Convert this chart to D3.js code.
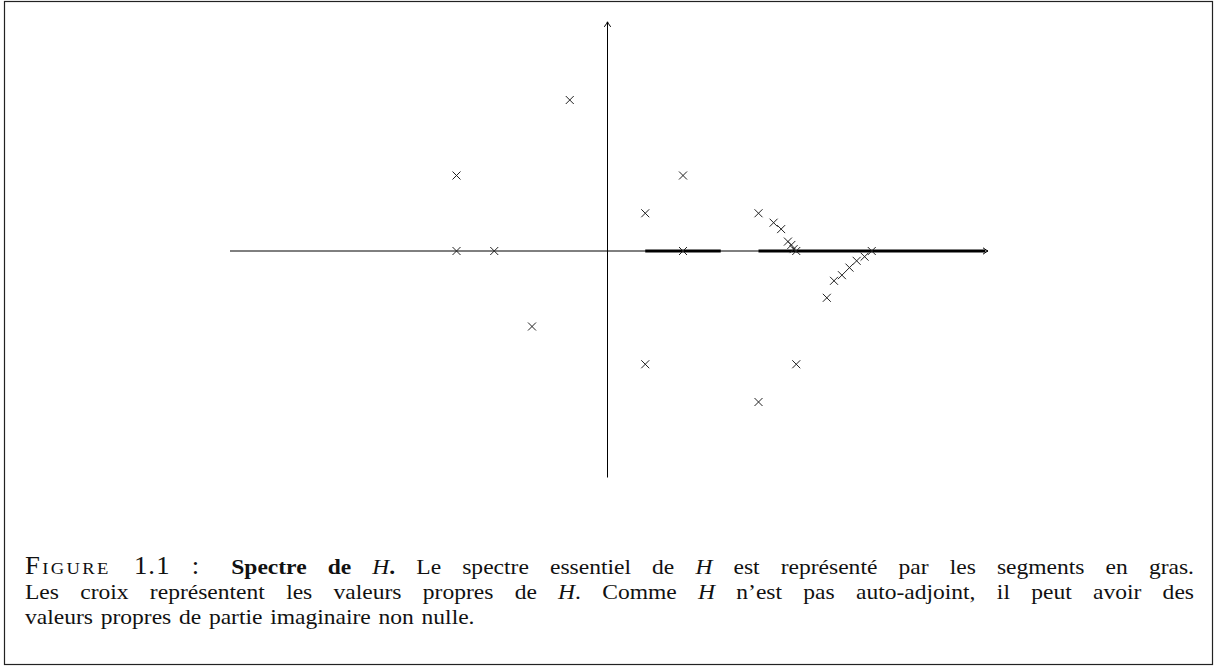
<!DOCTYPE html>
<html>
<head>
<meta charset="utf-8">
<script src="https://cdn.jsdelivr.net/npm/d3@7"></script>
<style>
  body { margin: 0; background: #fff; }
  svg { display: block; }
</style>
</head>
<body>
<svg id="chart" width="1214" height="666"></svg>
<script>
// eigenvalues of H (real part, imaginary part)
const eigen_re = [-4, -4, -3, -1, -2, 1, 2, 2, 1, 4, 5, 4,
                  4.4, 4.6, 4.78, 4.87, 4.93, 5.0,
                  5.81, 6.0, 6.21, 6.41, 6.6, 6.81, 7.0];
const eigen_im = [2, 0, 0, 4, -2, 1, 2, 0, -3, 1, -3, -4,
                  0.75, 0.58, 0.25, 0.16, 0.05, 0,
                  -1.24, -0.79, -0.64, -0.44, -0.26, -0.15, 0];
// essential spectrum segments on the real axis
const ess_start = [1, 4];
const ess_end = [3, 10];
// axes extents
const x_axis_extent = [-10, 10.08];
const y_axis_extent = [-6, 6.07];

// caption, word by word (each word = list of styled pieces)
const caption_line1 = [
    [["Figure", "sc"]], [["1.1", "lbl"]], [[":", "lbl"]],
    [["Spectre", "b"]], [["de", "b"]], [["H", "i"], [".", "b"]],
    [["Le"]], [["spectre"]], [["essentiel"]], [["de"]], [["H", "i"]], [["est"]],
    [["représenté"]], [["par"]], [["les"]], [["segments"]], [["en"]], [["gras."]]
];
const caption_line2 = [
    [["Les"]], [["croix"]], [["représentent"]], [["les"]], [["valeurs"]], [["propres"]], [["de"]],
    [["H", "i"], ["."]], [["Comme"]], [["H", "i"]], [["n\u2019est"]], [["pas"]], [["auto-adjoint,"]],
    [["il"]], [["peut"]], [["avoir"]], [["des"]]
];
const caption_line3 = [
    [["valeurs"]], [["propres"]], [["de"]], [["partie"]], [["imaginaire"]], [["non"]], [["nulle."]]
];

const svg = d3.select("#chart");
const x = d3.scaleLinear().domain([-10, 10]).range([230, 985]);
const y = d3.scaleLinear().domain([-6, 6]).range([477.5, 24.5]);

// frame
svg.append("rect")
    .attr("x", 4.5).attr("y", 1.5).attr("width", 1208).attr("height", 663)
    .attr("fill", "none").attr("stroke", "#222").attr("stroke-width", 1.2);

const plot = svg.append("g");

// axes lines
plot.append("line")
    .attr("x1", x(x_axis_extent[0])).attr("y1", y(0))
    .attr("x2", x(x_axis_extent[1])).attr("y2", y(0))
    .attr("stroke", "#000").attr("stroke-width", 1);
plot.append("line")
    .attr("x1", x(0)).attr("y1", y(y_axis_extent[0]))
    .attr("x2", x(0)).attr("y2", y(y_axis_extent[1]))
    .attr("stroke", "#000").attr("stroke-width", 1);

// arrow tips (latex-style)
const tip = "M-5,-3.2 Q-1.5,-0.6 0,0 Q-1.5,0.6 -5,3.2";
plot.append("path")
    .attr("d", tip)
    .attr("transform", `translate(${x(x_axis_extent[1])},${y(0)})`)
    .attr("fill", "none").attr("stroke", "#000").attr("stroke-width", 1);
plot.append("path")
    .attr("d", tip)
    .attr("transform", `translate(${x(0)},${y(y_axis_extent[1])}) rotate(-90)`)
    .attr("fill", "none").attr("stroke", "#000").attr("stroke-width", 1);

// essential spectrum (bold segments)
plot.selectAll("line.ess")
    .data(d3.range(ess_start.length))
    .join("line")
    .attr("class", "ess")
    .attr("x1", i => x(ess_start[i])).attr("y1", y(0))
    .attr("x2", i => x(ess_end[i])).attr("y2", y(0))
    .attr("stroke", "#000").attr("stroke-width", 3.2);

// eigenvalue crosses
const r = 4;
plot.selectAll("path.cross")
    .data(d3.range(eigen_re.length))
    .join("path")
    .attr("class", "cross")
    .attr("transform", i => `translate(${x(eigen_re[i])},${y(eigen_im[i])})`)
    .attr("d", `M${-r},${-r}L${r},${r}M${-r},${r}L${r},${-r}`)
    .attr("stroke", "#222").attr("stroke-width", 1).attr("fill", "none");

// caption, set word by word and justified like LaTeX
const cap_left = 25, cap_right = 1194;
const font = "'Liberation Serif', 'Times New Roman', serif";
const fsize = 22;
const sx = 1.07;   // computer modern is a bit wider than Times
const cap = svg.append("g").attr("font-family", font).attr("font-size", fsize).attr("fill", "#111");

function set_line(words, baseline, justified, extra_gaps) {
    const nodes = words.map(w => {
        const t = cap.append("text");
        w.forEach(([txt, s]) => {
            const ts = t.append("tspan").text(txt);
            if (s === "b") ts.attr("font-weight", "bold");
            if (s === "i") ts.attr("font-style", "italic");
            if (s === "sc") ts.attr("font-variant", "small-caps").attr("font-size", 25).attr("letter-spacing", 2.2);
            if (s === "lbl") ts.attr("font-size", 25).attr("letter-spacing", 1);
        });
        return t;
    });
    const widths = nodes.map(n => n.node().getComputedTextLength() * sx);
    const extra = extra_gaps || {};
    const extra_sum = d3.sum(Object.values(extra));
    const gap = justified
        ? (cap_right - cap_left - d3.sum(widths) - extra_sum) / (words.length - 1)
        : fsize * 0.35;
    let cx = cap_left;
    nodes.forEach((n, i) => {
        n.attr("transform", `translate(${cx},${baseline}) scale(${sx},1)`);
        cx += widths[i] + gap + (extra[i] || 0);
    });
}

set_line(caption_line1, 573.5, true, {2: 10});
set_line(caption_line2, 598.5, true);
set_line(caption_line3, 624, false);
</script>
</body>
</html>
